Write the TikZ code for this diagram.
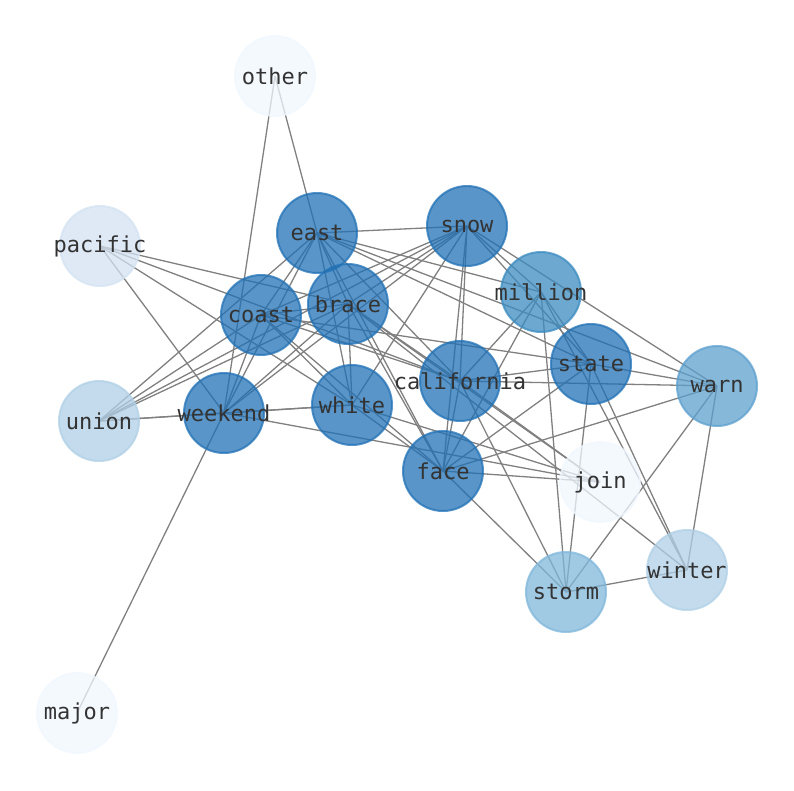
\documentclass[tikz,border=0pt]{standalone}
\usepackage{fontspec}
\newfontfamily\nodefont{DejaVu Sans Mono}
\usetikzlibrary{backgrounds}
\definecolor{cDark}{HTML}{2171B5}
\definecolor{cMil}{HTML}{3B8BC0}
\definecolor{cWarn}{HTML}{5DA0CE}
\definecolor{cStorm}{HTML}{80B7DA}
\definecolor{cWint}{HTML}{AFCFE6}
\definecolor{cPac}{HTML}{D3E2F2}
\definecolor{cLight}{HTML}{F0F7FE}
\definecolor{cText}{HTML}{333333}
\newcommand{\lbl}[1]{\makebox[0pt][c]{#1}}
\tikzset{
  nd/.style={circle, minimum size=80pt, inner sep=0pt, line width=2pt,
    fill opacity=0.75, draw opacity=0.75, text opacity=1, text=cText,
    font=\nodefont\fontsize{22}{24}\selectfont},
  ed/.style={draw=black!50, line width=1.3pt}
}
\begin{document}
\begin{tikzpicture}[x=1pt,y=-1pt]
\useasboundingbox (0,0) rectangle (794,790);
\node[nd, fill=cLight, draw=cLight] (other) at (275,76) {\lbl{other}};
\node[nd, fill=cPac, draw=cPac] (pacific) at (100,246) {\lbl{pacific}};
\node[nd, fill=cDark, draw=cDark] (east) at (317,233) {\lbl{east}};
\node[nd, fill=cDark, draw=cDark] (snow) at (467,226) {\lbl{snow}};
\node[nd, fill=cMil, draw=cMil] (million) at (541,292) {\lbl{million}};
\node[nd, fill=cDark, draw=cDark] (brace) at (348,304) {\lbl{brace}};
\node[nd, fill=cDark, draw=cDark] (coast) at (261,315) {\lbl{coast}};
\node[nd, fill=cDark, draw=cDark] (california) at (460,381) {\lbl{california}};
\node[nd, fill=cDark, draw=cDark] (state) at (591,364) {\lbl{state}};
\node[nd, fill=cWarn, draw=cWarn] (warn) at (717,386) {\lbl{warn}};
\node[nd, fill=cWint, draw=cWint] (union) at (99,421) {\lbl{union}};
\node[nd, fill=cDark, draw=cDark] (weekend) at (224,413) {\lbl{weekend}};
\node[nd, fill=cDark, draw=cDark] (white) at (352,405) {\lbl{white}};
\node[nd, fill=cDark, draw=cDark] (face) at (443,471) {\lbl{face}};
\node[nd, fill=cLight, draw=cLight] (join) at (600,482) {\lbl{join}};
\node[nd, fill=cStorm, draw=cStorm] (storm) at (566,592) {\lbl{storm}};
\node[nd, fill=cWint, draw=cWint] (winter) at (687,570) {\lbl{winter}};
\node[nd, fill=cLight, draw=cLight] (major) at (77,713) {\lbl{major}};
\begin{scope}[on background layer]
\foreach \a/\b in {major/weekend, other/east, other/weekend,
  union/weekend, union/white, union/east, union/coast, union/brace, union/snow,
  pacific/weekend, pacific/brace, pacific/california, pacific/white,
  weekend/white, weekend/join, weekend/coast, weekend/east, weekend/brace, weekend/snow,
  east/snow, east/million, east/warn, east/state, east/california, east/face, east/white, east/brace, east/coast,
  coast/snow, coast/brace, coast/white, coast/california, coast/state, coast/face,
  brace/white, brace/snow, brace/california, brace/face, brace/join, brace/winter,
  snow/million, snow/state, snow/warn, snow/california, snow/face, snow/white,
  million/california, million/face, million/state, million/storm, million/winter,
  california/state, california/warn, california/face, california/storm, california/join,
  state/face, state/storm, state/warn, state/winter,
  warn/face, warn/storm, warn/winter,
  face/storm, face/join, storm/winter, white/face, white/join}
  \draw[ed] (\a.center) -- (\b.center);
\end{scope}
\end{tikzpicture}
\end{document}
